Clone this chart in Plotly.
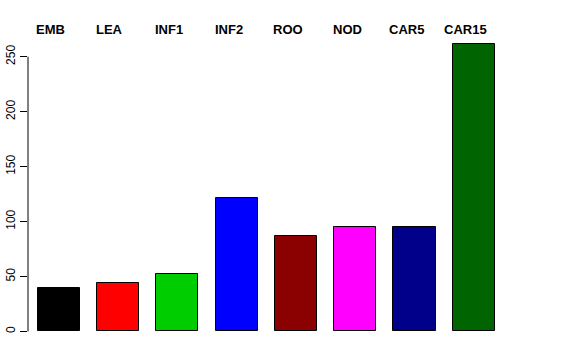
import plotly.graph_objects as go

categories = ["EMB", "LEA", "INF1", "INF2", "ROO", "NOD", "CAR5", "CAR15"]
values = [40, 44, 52, 121.5, 87, 95, 95, 262]
colors = ["#000000", "#FF0000", "#00CD00", "#0000FF", "#8B0000", "#FF00FF", "#00008B", "#006400"]
y_ticks = [0, 50, 100, 150, 200, 250]

positions = list(range(len(categories)))

fig = go.Figure()
fig.add_trace(go.Bar(
    x=positions, y=values, width=0.71,
    marker=dict(color=colors, line=dict(color="black", width=1)),
    showlegend=False, hoverinfo="skip",
))

for p, c in zip(positions, categories):
    fig.add_annotation(x=p, y=1, xref="x", yref="paper", text="<b>" + c + "</b>",
                       showarrow=False, yanchor="middle", yshift=3, xshift=-8,
                       font=dict(size=13, color="black", family="Liberation Sans, Arial, sans-serif"))

# y axis line from 0 to 250 only (R style)
fig.add_shape(type="line", xref="paper", yref="y", x0=0, x1=0, y0=0, y1=250,
              line=dict(color="black", width=1))

fig.update_layout(
    width=576, height=360,
    margin=dict(l=28, r=28, t=32, b=17, autoexpand=False),
    plot_bgcolor="white", paper_bgcolor="white",
    font=dict(family="Liberation Sans, Arial, sans-serif", size=12, color="black"),
    xaxis=dict(range=[-0.517, 8.25], showticklabels=False, showgrid=False, zeroline=False,
               showline=False, ticks="", automargin=False),
    yaxis=dict(range=[-10.48, 272.5], tickvals=y_ticks, ticktext=[str(v) for v in y_ticks],
               tickangle=-90, ticks="outside", ticklen=7, tickcolor="black",
               showgrid=False, zeroline=False, showline=False, automargin=False,
               tickfont=dict(size=12, color="black")),
    bargap=0,
)

fig.write_html("out.html", config={"displayModeBar": False},
               post_script="document.body.style.margin='0';document.body.style.padding='0';")
